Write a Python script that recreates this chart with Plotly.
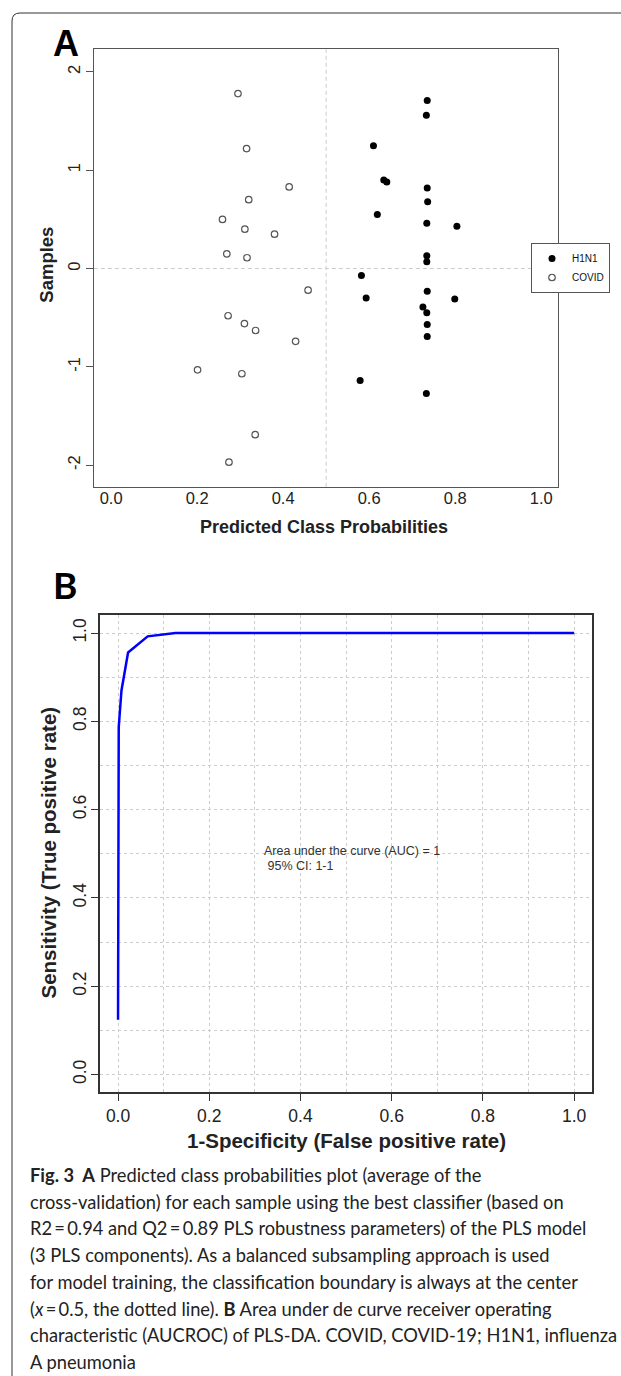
import plotly.graph_objects as go

W, H = 621, 1376

# ---------------- Data: panel A ----------------
h1n1_prob = [0.735, 0.733, 0.610, 0.634, 0.641, 0.735, 0.736, 0.619, 0.734, 0.804, 0.734,
             0.734, 0.582, 0.593, 0.735, 0.799, 0.725, 0.734, 0.735, 0.735, 0.579, 0.733]
h1n1_sample = [1.71, 1.56, 1.25, 0.90, 0.88, 0.82, 0.68, 0.55, 0.46, 0.43, 0.13,
               0.07, -0.07, -0.30, -0.23, -0.31, -0.39, -0.45, -0.57, -0.69, -1.14, -1.27]
covid_prob = [0.295, 0.315, 0.414, 0.320, 0.259, 0.311, 0.380, 0.269, 0.316, 0.458,
              0.272, 0.310, 0.336, 0.429, 0.201, 0.304, 0.335, 0.274]
covid_sample = [1.78, 1.22, 0.83, 0.70, 0.50, 0.40, 0.35, 0.15, 0.11, -0.22,
                -0.48, -0.56, -0.63, -0.74, -1.03, -1.07, -1.69, -1.97]
a_xticks = [0.0, 0.2, 0.4, 0.6, 0.8, 1.0]
a_xticklabels = ["0.0", "0.2", "0.4", "0.6", "0.8", "1.0"]
a_yticks = [-2, -1, 0, 1, 2]
a_yticklabels = ["-2", "-1", "0", "1", "2"]
boundary_x = 0.5
boundary_y = 0

# ---------------- Data: panel B ----------------
roc_fpr = [0.0, 0.0015, 0.0075, 0.022, 0.065, 0.126, 1.0]
roc_tpr = [0.124, 0.787, 0.870, 0.956, 0.9925, 1.0, 1.0]
b_ticks = [0.0, 0.2, 0.4, 0.6, 0.8, 1.0]
b_ticklabels = ["0.0", "0.2", "0.4", "0.6", "0.8", "1.0"]
auc_text = ["Area under the curve (AUC) = 1", " 95% CI: 1-1"]

caption_lines = [
    "<b>Fig. 3  A</b> Predicted class probabilities plot (average of the",
    "cross-validation) for each sample using the best classifier (based on",
    "R2\u2009=\u20090.94 and Q2\u2009=\u20090.89 PLS robustness parameters) of the PLS model",
    "(3 PLS components). As a balanced subsampling approach is used",
    "for model training, the classification boundary is always at the center",
    "(<i>x</i>\u2009=\u20090.5, the dotted line). <b>B</b> Area under de curve receiver operating",
    "characteristic (AUCROC) of PLS-DA. COVID, COVID-19; H1N1, influenza",
    "A pneumonia",
]


def px_x(p):
    return p / W


def px_y(p):
    return 1 - p / H


FONT = "Liberation Sans"
fig = go.Figure()

fig.add_trace(go.Scatter(
    x=h1n1_prob, y=h1n1_sample, mode="markers", name="H1N1",
    marker=dict(symbol="circle", size=7, color="black"),
    xaxis="x", yaxis="y"))
fig.add_trace(go.Scatter(
    x=covid_prob, y=covid_sample, mode="markers", name="COVID",
    marker=dict(symbol="circle-open", size=6.5, color="#555555", line=dict(width=1.2)),
    xaxis="x", yaxis="y"))

fig.add_trace(go.Scatter(
    x=roc_fpr, y=roc_tpr, mode="lines", showlegend=False,
    line=dict(color="#0000ff", width=2.5),
    xaxis="x2", yaxis="y2"))

axis_common = dict(showline=True, mirror=True, zeroline=False, automargin=False)
tf_a = dict(family=FONT, size=16.5, color="#222222")
tf_b = dict(family=FONT, size=17.5, color="#222222")

fig.update_layout(
    width=W, height=H,
    margin=dict(l=0, r=0, t=0, b=0),
    paper_bgcolor="white", plot_bgcolor="white",
    font=dict(family=FONT, color="#222222"),
    xaxis=dict(domain=[px_x(93.9), px_x(558.4)], range=[-0.04, 1.04],
               tickvals=a_xticks, ticktext=a_xticklabels, ticks="",
               ticklabelstandoff=-4, tickfont=tf_a,
               showgrid=False, linecolor="#555555", linewidth=1,
               anchor="y", **axis_common),
    yaxis=dict(domain=[px_y(486.8), px_y(49.3)], range=[-2.22, 2.23],
               tickvals=a_yticks, ticktext=a_yticklabels, ticks="outside",
               ticklen=7, tickcolor="#555555", tickangle=-90, ticklabelstandoff=-1,
               tickfont=tf_a,
               showgrid=False, linecolor="#555555", linewidth=1,
               anchor="x", **axis_common),
    xaxis2=dict(domain=[px_x(99.8), px_x(592.4)], range=[-0.04, 1.04],
                tickvals=b_ticks, ticktext=b_ticklabels, ticks="outside",
                ticklen=7, tickcolor="#333333", tickfont=tf_b,
                showgrid=True, gridcolor="#cccccc", griddash="dot", gridwidth=1,
                minor=dict(dtick=0.1, tick0=0, showgrid=True, gridcolor="#cccccc",
                           griddash="dot", ticks=""),
                linecolor="#333333", linewidth=1.5,
                anchor="y2", **axis_common),
    yaxis2=dict(domain=[px_y(1092.1), px_y(615.4)], range=[-0.04, 1.04],
                tickvals=b_ticks, ticktext=b_ticklabels, ticks="outside",
                ticklen=7, tickcolor="#333333", tickangle=-90, ticklabelstandoff=-2,
                tickfont=tf_b,
                showgrid=True, gridcolor="#cccccc", griddash="dot", gridwidth=1,
                minor=dict(dtick=0.1, tick0=0, showgrid=True, gridcolor="#cccccc",
                           griddash="dot", ticks=""),
                linecolor="#333333", linewidth=1.5,
                anchor="x2", **axis_common),
    legend=dict(x=px_x(610), y=px_y(268), xanchor="right", yanchor="middle",
                bgcolor="white", bordercolor="#555555", borderwidth=1,
                font=dict(family=FONT, size=10, color="#111111"),
                itemwidth=30, tracegroupgap=0),
    showlegend=True,
)

# dashed classification boundary lines (panel A)
fig.add_shape(type="line", xref="x", yref="y domain", x0=boundary_x, x1=boundary_x, y0=0, y1=1,
              line=dict(color="#cccccc", width=1, dash="4px,3px"), layer="below")
fig.add_shape(type="line", xref="x domain", yref="y", x0=0, x1=1, y0=boundary_y, y1=boundary_y,
              line=dict(color="#cccccc", width=1, dash="4px,3px"), layer="below")

# outer rounded frame
fx, fy, r = 12, 13, 8
path = (f"M {px_x(fx)},{px_y(H)} L {px_x(fx)},{px_y(fy + r)} "
        f"Q {px_x(fx)},{px_y(fy)} {px_x(fx + r)},{px_y(fy)} L {px_x(W + 5)},{px_y(fy)}")
fig.add_shape(type="path", xref="paper", yref="paper", path=path,
              line=dict(color="#333333", width=1))

ann = []
# panel letters
ann.append(dict(text="<b>A</b>", x=px_x(65.5), y=px_y(43), xref="paper", yref="paper",
                showarrow=False, xanchor="center", yanchor="middle",
                font=dict(family=FONT, size=36, color="black")))
ann.append(dict(text="<b>B</b>", x=px_x(65), y=px_y(584), xref="paper", yref="paper",
                showarrow=False, xanchor="center", yanchor="middle",
                font=dict(family="Lato", size=37, color="black")))
# axis titles panel A
ann.append(dict(text="<b>Predicted Class Probabilities</b>", x=px_x(324), y=px_y(527),
                xref="paper", yref="paper", showarrow=False, xanchor="center", yanchor="middle",
                font=dict(family=FONT, size=18, color="#222222")))
ann.append(dict(text="<b>Samples</b>", x=px_x(46.7), y=px_y(265), textangle=-90,
                xref="paper", yref="paper", showarrow=False, xanchor="center", yanchor="middle",
                font=dict(family=FONT, size=18.5, color="#222222")))
# axis titles panel B
ann.append(dict(text="<b>1-Specificity (False positive rate)</b>", x=px_x(346), y=px_y(1140),
                xref="paper", yref="paper", showarrow=False, xanchor="center", yanchor="middle",
                font=dict(family=FONT, size=20.5, color="#222222")))
ann.append(dict(text="<b>Sensitivity (True positive rate)</b>", x=px_x(47.5), y=px_y(853),
                textangle=-90, xref="paper", yref="paper", showarrow=False,
                xanchor="center", yanchor="middle",
                font=dict(family=FONT, size=20.5, color="#222222")))
# AUC text in panel B
for txt, yy in zip(auc_text, [0.506, 0.472]):
    ann.append(dict(text=txt, x=0.315, y=yy, xref="x2", yref="y2", showarrow=False,
                    xanchor="left", yanchor="middle",
                    font=dict(family=FONT, size=12.5, color="#333333")))
# caption
for i, line in enumerate(caption_lines):
    ann.append(dict(text=line, x=px_x(28), y=px_y(1175 + i * 26.7), xref="paper", yref="paper",
                    showarrow=False, xanchor="left", yanchor="middle",
                    font=dict(family="Lato", size=18.3, color="#222222")))

fig.update_layout(annotations=ann)

fig.write_html("out.html")
